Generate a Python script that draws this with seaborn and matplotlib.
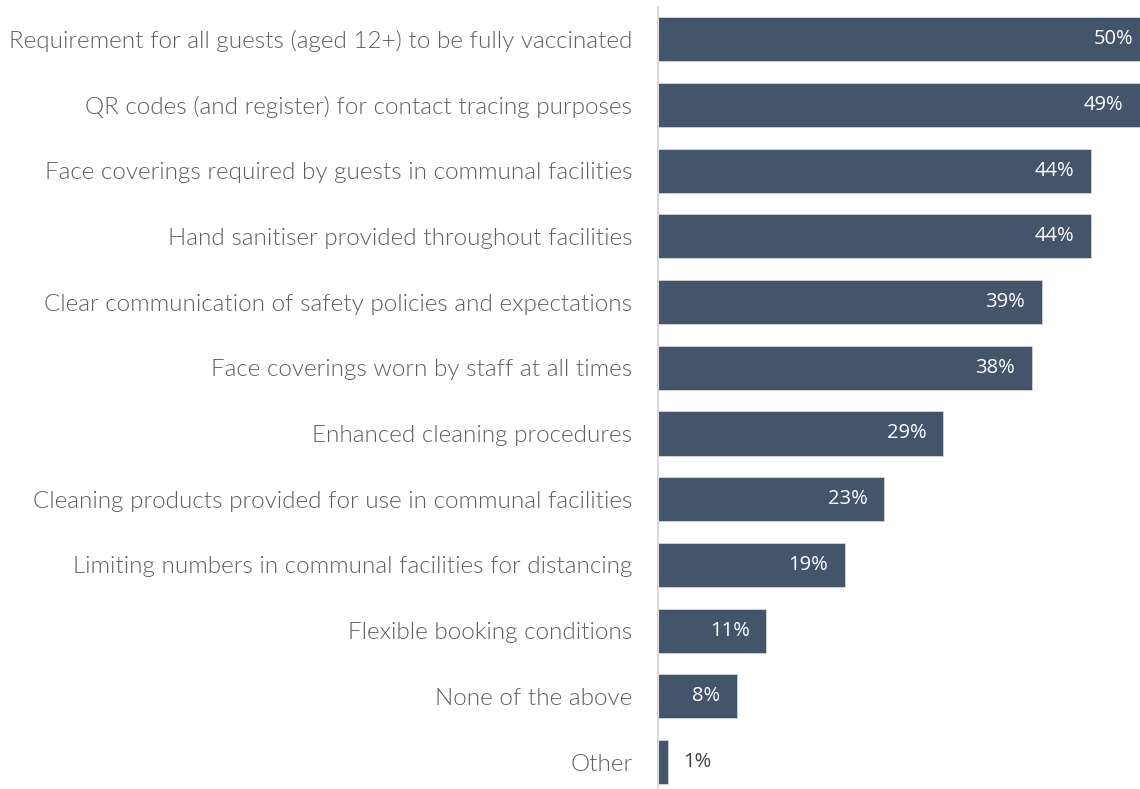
import matplotlib
matplotlib.use("Agg")
import matplotlib.pyplot as plt
import seaborn as sns
import pandas as pd

categories = [
    "Requirement for all guests (aged 12+) to be fully vaccinated",
    "QR codes (and register) for contact tracing purposes",
    "Face coverings required by guests in communal facilities",
    "Hand sanitiser provided throughout facilities",
    "Clear communication of safety policies and expectations",
    "Face coverings worn by staff at all times",
    "Enhanced cleaning procedures",
    "Cleaning products provided for use in communal facilities",
    "Limiting numbers in communal facilities for distancing",
    "Flexible booking conditions",
    "None of the above",
    "Other",
]
values = [50, 49, 44, 44, 39, 38, 29, 23, 19, 11, 8, 1]

df = pd.DataFrame({"measure": categories, "share": values})

sns.set_theme(style="white")
plt.rcParams["font.family"] = ["Lato", "DejaVu Sans"]

BAR = "#44546A"

fig = plt.figure(figsize=(11.4, 7.89), dpi=100)
ax = fig.add_axes([658 / 1140, 0.0, 1 - 658 / 1140, 1 - 7 / 789])

sns.barplot(data=df, y="measure", x="share", orient="h", color=BAR,
            width=0.67, saturation=1, edgecolor="#D0D5DC", linewidth=0.6, ax=ax)

ax.set_xlim(0, 48.98)
ax.set_ylim(11.41, -0.49)
ax.set_xlabel("")
ax.set_ylabel("")
ax.set_xticks([])
ax.tick_params(axis="y", length=0, pad=18.5, labelcolor="#5E5E5E")
for lab in ax.get_yticklabels():
    lab.set_fontfamily(["Lato", "DejaVu Sans"])
    lab.set_fontweight(300)
    lab.set_fontsize(17.5)

for s in ["top", "right", "bottom"]:
    ax.spines[s].set_visible(False)
ax.spines["left"].set_color("#D9D9D9")
ax.spines["left"].set_linewidth(1.5)

for i, v in enumerate(values):
    if v >= 5:
        ax.annotate(f"{v}%", xy=(v, i), xytext=(-12, 0), textcoords="offset points",
                    ha="right", va="center", color="white", fontsize=14.5,
                    family=["Open Sans", "DejaVu Sans"], annotation_clip=False)
    else:
        ax.annotate(f"{v}%", xy=(v, i), xytext=(11, 0), textcoords="offset points",
                    ha="left", va="center", color="#404040", fontsize=14.5,
                    family=["Open Sans", "DejaVu Sans"], annotation_clip=False)

fig.savefig("out.png", dpi=100, facecolor="white")
